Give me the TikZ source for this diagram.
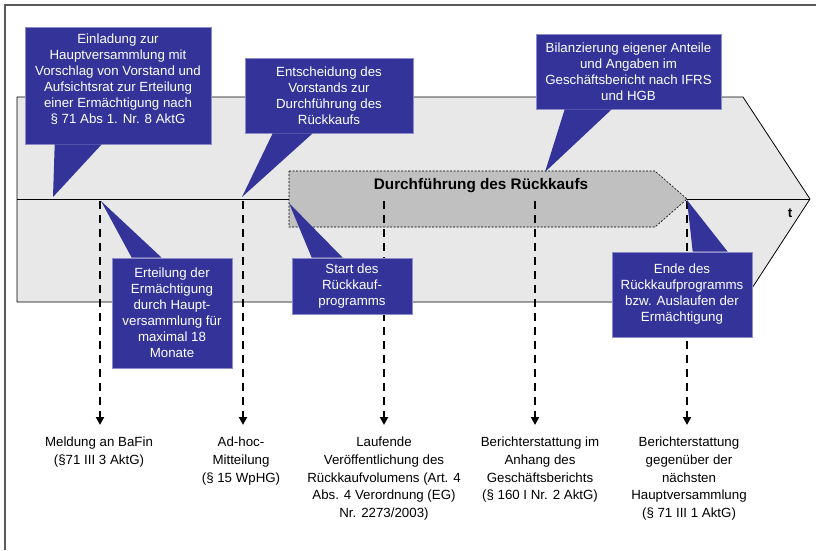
\documentclass[tikz,border=0pt]{standalone}
\usepackage{fontspec}
\setmainfont{Liberation Sans}
\usetikzlibrary{arrows.meta}

\definecolor{rkblau}{RGB}{51,51,153}
\definecolor{rkrand}{RGB}{140,140,200}
\definecolor{rkhell}{RGB}{232,232,232}
\definecolor{rkgrau}{RGB}{192,192,192}
\definecolor{rkrahmen}{RGB}{90,90,90}

\tikzset{
  callout/.style = {fill=rkblau, draw=rkrand, line width=.6pt, text=white,
                    align=center, inner sep=0pt, font=\fontsize{13.3}{16}\selectfont},
  zeiger/.style  = {fill=rkblau},
  zeit/.style    = {line width=2pt, dash pattern=on 8pt off 6pt,
                    -{Triangle[width=8pt,length=8pt]}},
  ziel/.style    = {align=center, anchor=north, inner xsep=1pt, inner ysep=12pt,
                    font=\fontsize{13.3}{17.7}\selectfont}
}

\begin{document}
\begin{tikzpicture}
    [x=1pt, y=-1pt]
    \useasboundingbox (0,0) rectangle (816,550);
    \draw[rkrahmen, line width=1.5pt] (5,550) -- (5,5) -- (816,5);

    % Zeitpfeil
    \draw[fill=rkhell, line width=.8pt] (17,97) -- (743,97) -- (810,199) -- (743,302) -- (17,302) -- cycle;
    \draw[line width=.8pt] (17,199) -- (810,199);
    \node[font=\bfseries\fontsize{13.3}{16}\selectfont] (t) at (790,213) {t};

    % Phase
    \draw[fill=rkgrau, line width=.6pt, dash pattern=on 2pt off 1.5pt]
      (289,171) -- (655,171) -- (687,199) -- (655,227) -- (289,227) -- cycle;
    \node[font=\bfseries\fontsize{15.3}{18}\selectfont] (phase) at (481,186) {Durchführung des Rückkaufs};

    % Zeitpunkte und Folgen
    \coordinate (k1) at (100,201);
    \coordinate (k2) at (243,201);
    \coordinate (k3) at (384,201);
    \coordinate (k4) at (535,201);
    \coordinate (k5) at (687,201);
    \node[ziel] (m1) at (99,425)  {Meldung an BaFin\\(§71 III 3 AktG)};
    \node[ziel] (m2) at (241,425) {Ad-hoc-\\Mitteilung\\(§ 15 WpHG)};
    \node[ziel] (m3) at (384,425) {Laufende\\Veröffentlichung des\\Rückkaufvolumens (Art. 4\\Abs. 4 Verordnung (EG)\\Nr. 2273/2003)};
    \node[ziel] (m4) at (540,425) {Berichterstattung im\\Anhang des\\Geschäftsberichts\\(§ 160 I Nr. 2 AktG)};
    \node[ziel] (m5) at (689,425) {Berichterstattung\\gegenüber der\\nächsten\\Hauptversammlung\\(§ 71 III 1 AktG)};
    \foreach \von/\nach in {k1/m1,k2/m2,k3/m3,k4/m4,k5/m5}
      \draw[zeit] (\von) -- (\von |- \nach.north);

    % Sprechblasen
    \node[callout, minimum width=186pt, minimum height=117pt] (c1) at (118,85.5)
      {Einladung zur\\Hauptversammlung mit\\Vorschlag von Vorstand und\\Aufsichtsrat zur Erteilung\\einer Ermächtigung nach\\§ 71 Abs 1. Nr. 8 AktG\\[-3pt]};
    \node[callout, minimum width=168pt, minimum height=75pt] (c2) at (329,95.5)
      {Entscheidung des\\Vorstands zur\\Durchführung des\\Rückkaufs};
    \node[callout, minimum width=185pt, minimum height=75pt] (c3) at (628.5,71.5)
      {Bilanzierung eigener Anteile\\und Angaben im\\Geschäftsbericht nach IFRS\\und HGB};
    \node[callout, minimum width=120pt, minimum height=110pt] (c4) at (172,313)
      {Erteilung der\\Ermächtigung\\durch Haupt-\\versammlung für\\maximal 18\\Monate};
    \node[callout, minimum width=120pt, minimum height=56pt] (c5) at (352,286)
      {Start des\\Rückkauf-\\programms};
    \node[callout, minimum width=140pt, minimum height=85pt] (c6) at (682,294.5)
      {Ende des\\Rückkaufprogramms\\bzw. Auslaufen der\\Ermächtigung};

    \coordinate (s1) at (53,197);
    \coordinate (s2) at (242,197);
    \coordinate (s3) at (545,172);
    \coordinate (s4) at (101,201);
    \coordinate (s5) at (289,203);
    \coordinate (s6) at (687,200);
    \fill[zeiger] ([xshift=30pt]c1.south west) -- ([xshift=77pt]c1.south west) -- (s1) -- cycle;
    \fill[zeiger] ([xshift=28pt]c2.south west) -- ([xshift=68pt]c2.south west) -- (s2) -- cycle;
    \fill[zeiger] ([xshift=29pt]c3.south west) -- ([xshift=76pt]c3.south west) -- (s3) -- cycle;
    \fill[zeiger] ([xshift=20pt]c4.north west) -- ([xshift=50pt]c4.north west) -- (s4) -- cycle;
    \fill[zeiger] ([xshift=20pt]c5.north west) -- ([xshift=51pt]c5.north west) -- (s5) -- cycle;
    \fill[zeiger] ([xshift=81pt]c6.north west) -- ([xshift=116pt]c6.north west) -- (s6) -- cycle;
\end{tikzpicture}
\end{document}
